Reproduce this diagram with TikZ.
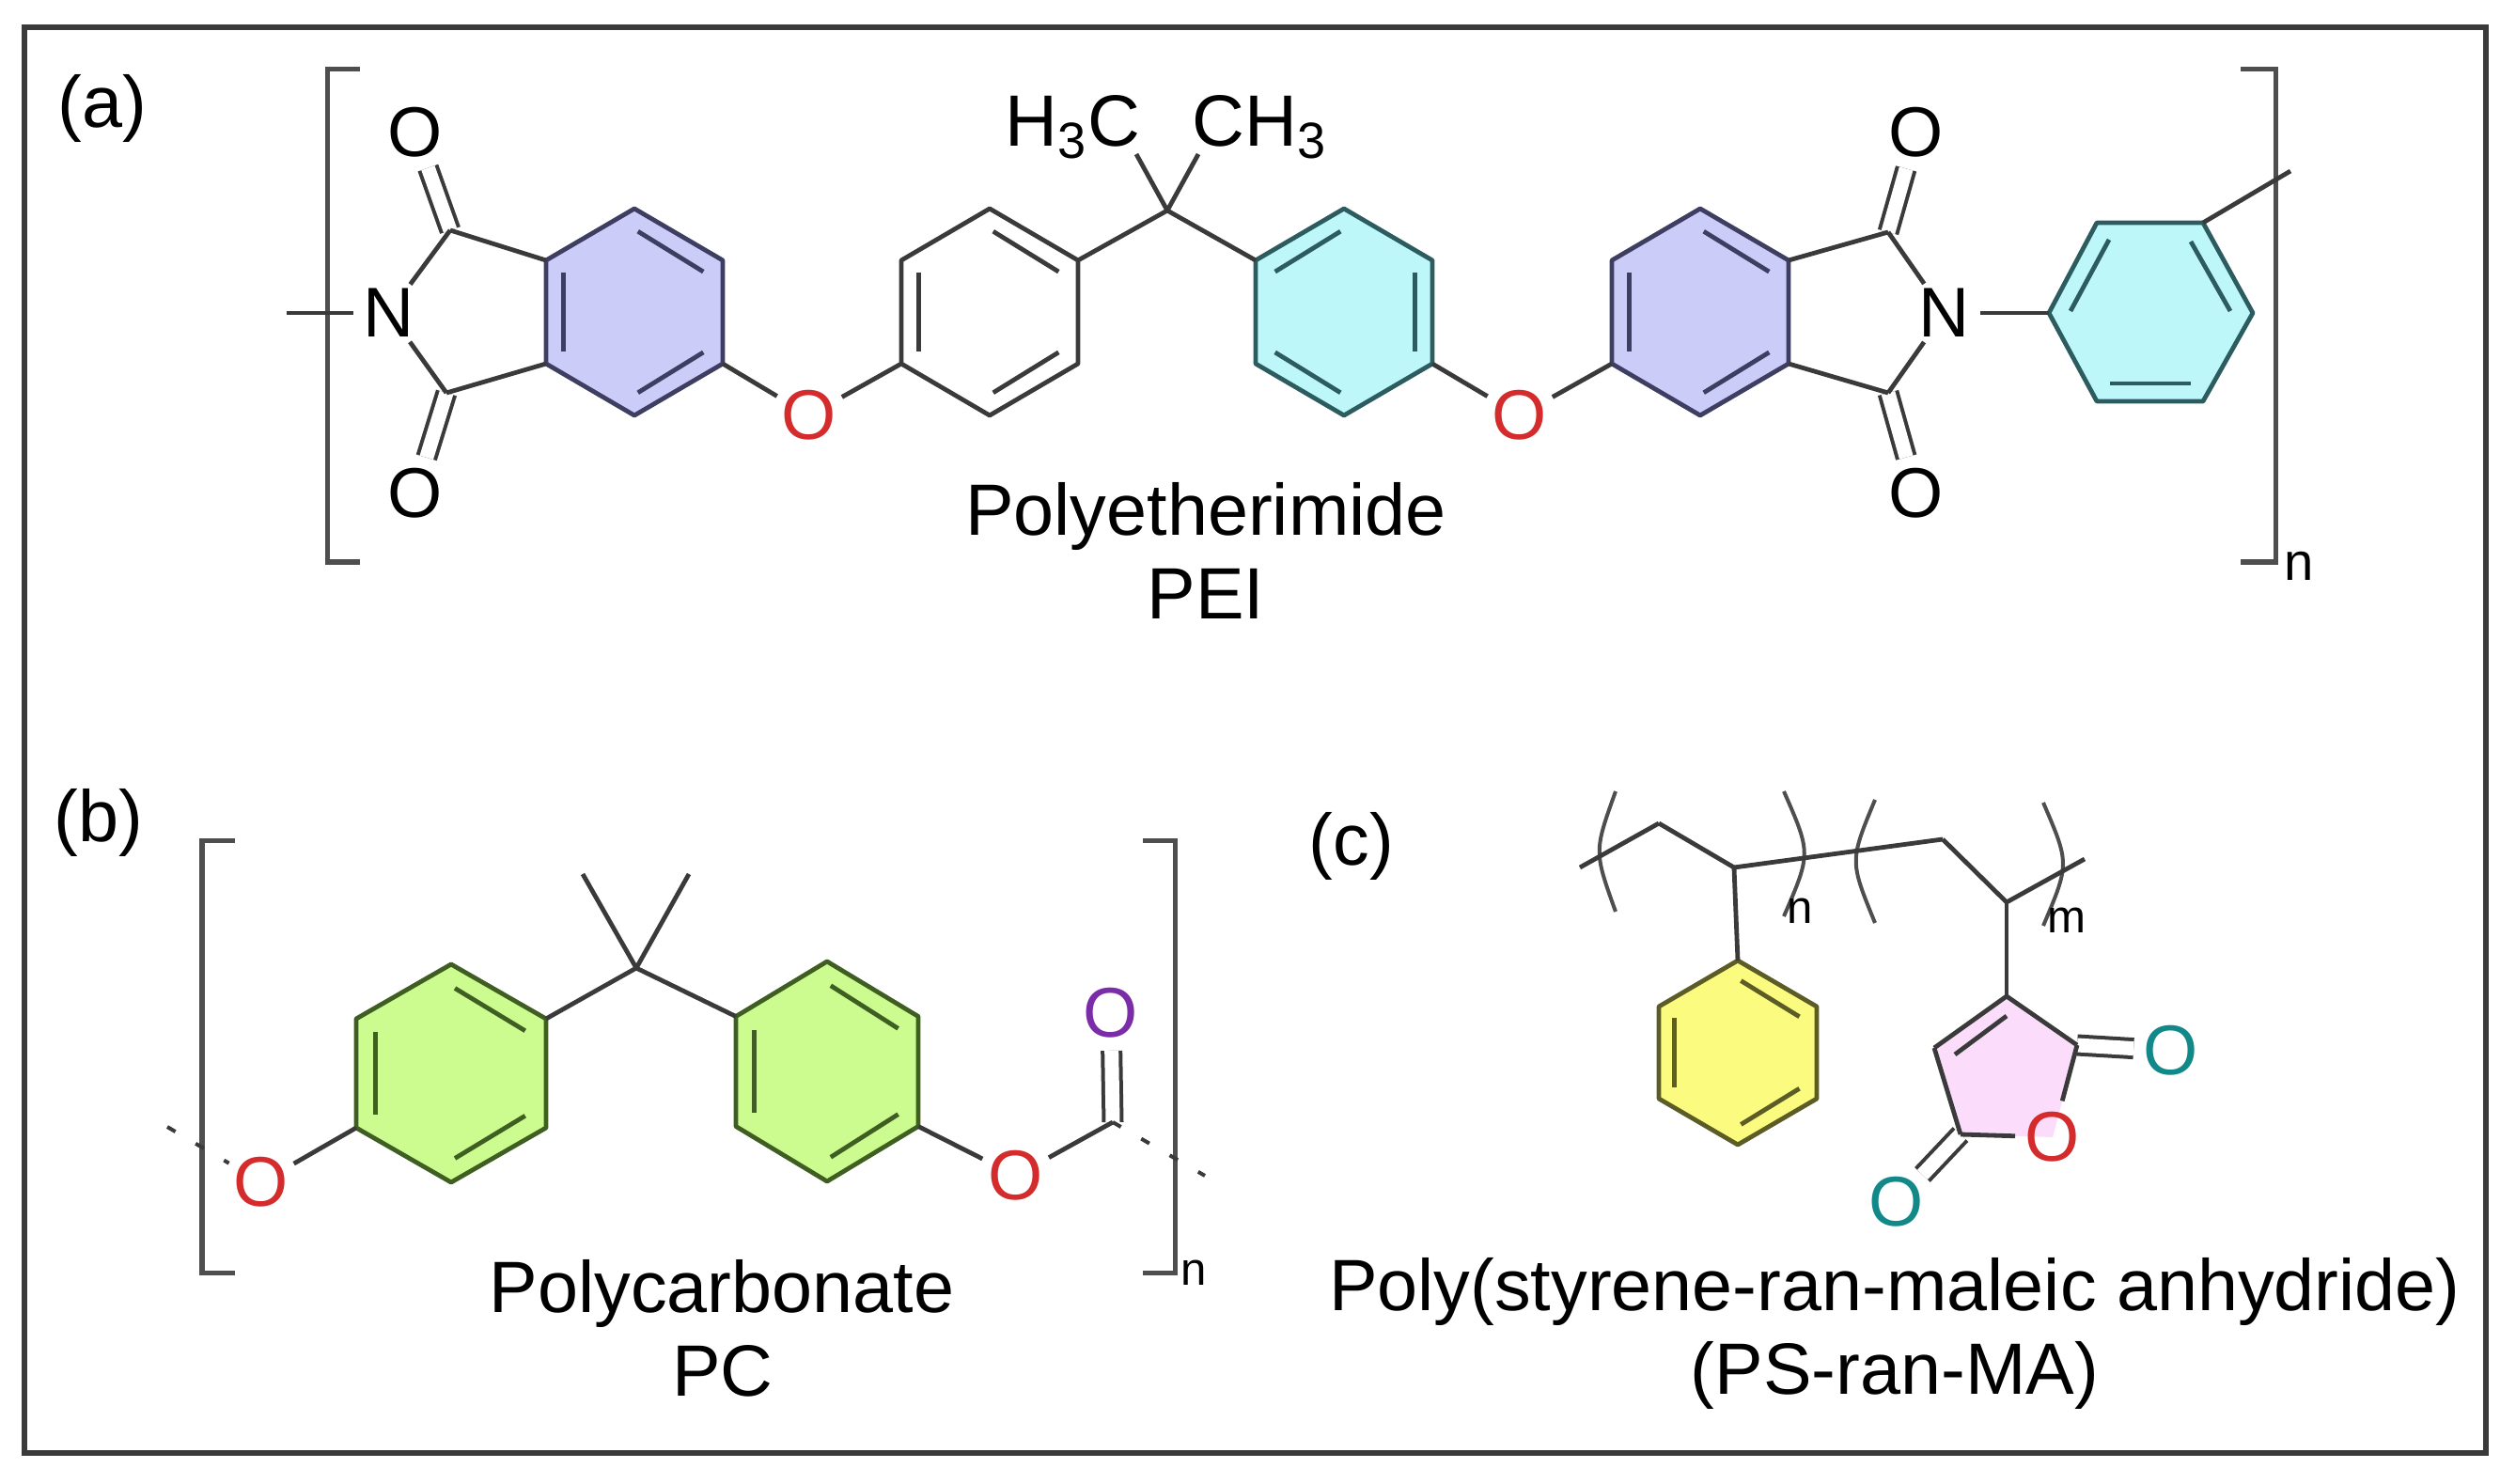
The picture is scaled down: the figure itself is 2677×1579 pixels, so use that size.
\documentclass[tikz,border=0pt]{standalone}
\usepackage{fontspec}
\setmainfont{Liberation Sans}
\newcommand{\titlefont}{\fontsize{22}{26}\selectfont}
\newcommand{\atomfont}{\fontsize{21.3}{25}\selectfont}
\newcommand{\repeatfont}{\fontsize{14}{16}\selectfont}
\definecolor{bondgray}{HTML}{3A3A3A}
\definecolor{oxygenred}{HTML}{D42C2C}
\definecolor{oxygenpurple}{HTML}{7B2CA8}
\definecolor{oxygenteal}{HTML}{128888}
\definecolor{purpleline}{HTML}{3E3E62}
\definecolor{purplefill}{HTML}{CCCCF8}
\definecolor{cyanline}{HTML}{2C5C60}
\definecolor{cyanfill}{HTML}{BEF7F9}
\definecolor{greenline}{HTML}{3F5F22}
\definecolor{greenfill}{HTML}{CCFB8F}
\definecolor{yellowline}{HTML}{5C5C26}
\definecolor{yellowfill}{HTML}{FBFB7F}
\definecolor{pinkfill}{HTML}{FBDCFB}
\begin{document}
\begin{tikzpicture}
[x=0.01cm,y=-0.01cm,
 bond/.style={draw=bondgray,line width=0.048cm,line join=round},
 dblbond/.style={draw=bondgray,line width=0.04cm,double=white,double distance=0.15cm},
 dashbond/.style={draw=bondgray,line width=0.04cm,dash pattern=on 0.1cm off 0.25cm},
 bracketline/.style={draw=bondgray!90!white,line width=0.05cm},
 ringpurple/.style={draw=purpleline,fill=purplefill,line width=0.048cm,line join=round},
 ringwhite/.style={bond},
 ringcyan/.style={draw=cyanline,fill=cyanfill,line width=0.048cm,line join=round},
 ringgreen/.style={draw=greenline,fill=greenfill,line width=0.048cm,line join=round},
 ringyellow/.style={draw=yellowline,fill=yellowfill,line width=0.048cm,line join=round},
 atomnode/.style={circle,inner sep=0pt,font=\atomfont},
 titlenode/.style={anchor=base,inner sep=0pt,font=\titlefont},
 repeatnode/.style={anchor=base,inner sep=0pt,font=\repeatfont}]
\useasboundingbox (0,0) rectangle (2677,1579);
\draw[draw=bondgray,line width=0.06cm] (26,29) rectangle (2645,1546);
%% panel labels and names
\node[titlenode,anchor=center] (panela) at (109,115) {(a)};
\node[titlenode,anchor=center] (panelb) at (105,875) {(b)};
\node[titlenode,anchor=center] (panelc) at (1438,900) {(c)};
\node[titlenode] (peiname) at (1283,569) {Polyetherimide};
\node[titlenode] (peishort) at (1283,659) {PEI};
\node[titlenode] (pcname) at (768,1396) {Polycarbonate};
\node[titlenode] (pcshort) at (769,1485) {PC};
\node[titlenode] (psname) at (2016,1394) {Poly(styrene-ran-maleic anhydride)};
\node[titlenode] (psshort) at (2016,1483) {(PS-ran-MA)};
%% brackets
\foreach \xv/\xt/\ytop/\ybot in {348/383/74/598, 2421/2384/74/598, 215/250/894/1354, 1250/1216/894/1354}
{
  \draw[bracketline] (\xt,\ytop) -- (\xv,\ytop) -- (\xv,\ybot) -- (\xt,\ybot);
}
\foreach \xa/\ya/\xc/\yc/\yb in {1719/842/1696/906/970, 1898/842/1927/908/975, 1995/851/1968/916/982, 2174/854/2202/919/985}
{
  \draw[bracketline,line width=0.04cm] (\xa,\ya) .. controls (\xc,\yc) .. (\xa,\yb);
}
\node[repeatnode,font=\fontsize{16}{18}\selectfont] (repa) at (2446,617) {n};
\node[repeatnode] (repb) at (1270,1367) {n};
\node[repeatnode] (repc) at (1915,982) {n};
\node[repeatnode] (repd) at (2199,992) {m};
%% six membered rings
\foreach \n/\x/\y/\w/\h/\s/\st in {a/675/332/94/110/1/ringpurple, b/1053/332/94/110/1/ringwhite, c/1430/332/94/110/-1/ringcyan, d/1809/332/94/110/1/ringpurple, e/480/1142/101/116/1/ringgreen, f/880/1140/97/117/1/ringgreen, g/1849/1120/84/98/1/ringyellow}
{
  \coordinate (r\n1) at (\x,\y-\h);
  \coordinate (r\n2) at (\x+\w,\y-0.5*\h);
  \coordinate (r\n3) at (\x+\w,\y+0.5*\h);
  \coordinate (r\n4) at (\x,\y+\h);
  \coordinate (r\n5) at (\x-\w,\y+0.5*\h);
  \coordinate (r\n6) at (\x-\w,\y-0.5*\h);
  \draw[\st] (r\n1) -- (r\n2) -- (r\n3) -- (r\n4) -- (r\n5) -- (r\n6) -- cycle;
  \draw[\st,fill=none] ({\x+\s*0.04*\w},{\y-0.78*\h}) -- ({\x+\s*0.78*\w},{\y-0.39*\h});
  \draw[\st,fill=none] ({\x-\s*0.8*\w},{\y-0.38*\h}) -- ({\x-\s*0.8*\w},{\y+0.38*\h});
  \draw[\st,fill=none] ({\x+\s*0.04*\w},{\y+0.78*\h}) -- ({\x+\s*0.78*\w},{\y+0.39*\h});
}
%% the tilted phenyl at the end of PEI
\foreach \n/\x/\y in {1/2180/333, 2/2231/237, 3/2344/237, 4/2397/333, 5/2344/427, 6/2231/427}
{
  \coordinate (rh\n) at (\x,\y);
}
\draw[ringcyan] (rh1) -- (rh2) -- (rh3) -- (rh4) -- (rh5) -- (rh6) -- cycle;
\foreach \xa/\ya/\xb/\yb in {2244/255/2203/331, 2331/257/2373/331, 2245/408/2331/408}
{
  \draw[ringcyan,fill=none] (\xa,\ya) -- (\xb,\yb);
}
%% the anhydride ring
\foreach \n/\x/\y in {ma/2135/1060, mb/2210/1112, mo/2184/1210, mc/2086/1207, md/2058/1115}
{
  \coordinate (\n) at (\x,\y);
}
\fill[pinkfill] (ma) -- (mb) -- (mo) -- (mc) -- (md) -- cycle;
%% atoms
\foreach \n/\x/\y/\c/\t in {na/414/333/black/N, nb/2069/333/black/N, oa/442/141/black/O, ob/442/525/black/O, oc/2039/141/black/O, od/2039/525/black/O, oe/861/442/oxygenred/O, of/1617/442/oxygenred/O, og/278/1258/oxygenred/O, oh/1081/1251/oxygenred/O, oi/1182/1078/oxygenpurple/O, oj/2184/1210/oxygenred/O, ok/2310/1118/oxygenteal/O, ol/2018/1279/oxygenteal/O}
{
  \node[atomnode,text=\c] (\n) at (\x,\y) {\t};
}
\node[titlenode,anchor=base west] (methyla) at (1069,156) {H\textsubscript{3}C};
\node[titlenode,anchor=base west] (methylb) at (1268,156) {CH\textsubscript{3}};
%% carbons and free ends
\foreach \n/\x/\y in {ca/479/245, cb/475/418, cc/2009/247, cd/2009/418, qa/1242/224, qb/677/1030, ce/1184/1194, sa/305/333, sb/2437/182, ta/1209/164, tb/1275/164, tc/620/930, td/733/930, se/178/1199, sf/1282/1251, ua/1681/923, ub/1765/876, uc/1845/923, ud/2067/893, ue/2135/960, uf/2218/914}
{
  \coordinate (\n) at (\x,\y);
}
%% double bonds to oxygen
\foreach \a/\b in {ca/oa, cb/ob, cc/oc, cd/od, ce/oi, mb/ok, mc/ol}
{
  \draw[dblbond] (\a) -- (\b);
}
%% single bonds
\foreach \a/\b in {sa/na, na/ca, na/cb, ca/ra6, cb/ra5, ra3/oe, oe/rb5, rb2/qa, qa/rc6, qa/ta, qa/tb, rc3/of, of/rd5, rd2/cc, rd3/cd, cc/nb, cd/nb, nb/rh1, rh3/sb, og/re5, re2/qb, qb/rf6, qb/tc, qb/td, rf3/oh, oh/ce, ua/ub, ub/uc, uc/ud, ud/ue, ue/uf, uc/rg1, ue/ma, ma/mb, mb/oj, oj/mc, mc/md, md/ma}
{
  \draw[bond] (\a) -- (\b);
}
\draw[bond] (2080,1122) -- (2135,1081);
\draw[dashbond] (se) -- (og);
\draw[dashbond] (ce) -- (sf);
\end{tikzpicture}
\end{document}
